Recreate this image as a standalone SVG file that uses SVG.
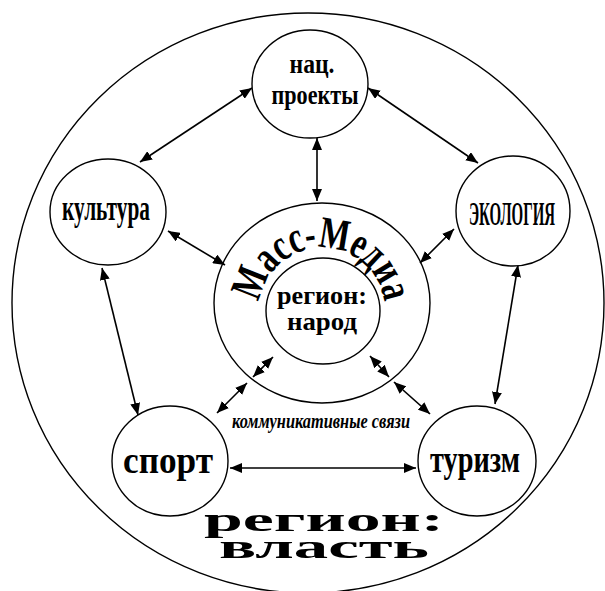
<svg xmlns="http://www.w3.org/2000/svg" width="605" height="591" viewBox="0 0 605 591">
<style>
.c{fill:none;stroke:#000;stroke-width:1.4}
.n{fill:#fff;stroke:#000;stroke-width:1.4}
.t{font-family:"Liberation Serif","DejaVu Serif",serif;font-weight:bold;fill:#000;text-anchor:middle}
.a{stroke:#000;stroke-width:1.6;fill:none;marker-start:url(#ah);marker-end:url(#ah)}
</style>
<defs>
<marker id="ah" viewBox="0 0 12 10" refX="12" refY="5" markerWidth="12" markerHeight="10" markerUnits="userSpaceOnUse" orient="auto-start-reverse"><path d="M0,0 L12,5 L0,10 z" fill="#000"/></marker>
</defs>
<rect width="605" height="591" fill="#fff"/>
<g id="region-vlast">
<ellipse class="c" cx="308" cy="303" rx="296" ry="290"/>
<text class="t" x="324" y="531" font-size="34" textLength="240" lengthAdjust="spacingAndGlyphs">регион:</text>
<text class="t" x="324" y="558" font-size="34" textLength="210" lengthAdjust="spacingAndGlyphs">власть</text>
</g>
<g id="mass-media">
<ellipse class="c" cx="322" cy="303" rx="108" ry="100"/>
<path id="mmarc" d="M259.6,302.2 A63,63 0 0 1 384.4,302.2" fill="none"/>
<text class="t" font-size="45" style="text-anchor:start"><textPath href="#mmarc" textLength="180" lengthAdjust="spacingAndGlyphs">Масс-Медиа</textPath></text>
</g>
<g id="region-narod">
<ellipse class="c" cx="323" cy="311" rx="57" ry="53"/>
<text class="t" x="322" y="304" font-size="26" textLength="90" lengthAdjust="spacingAndGlyphs">регион:</text>
<text class="t" x="322" y="330" font-size="26" textLength="70" lengthAdjust="spacingAndGlyphs">народ</text>
</g>
<g id="connectors">
<line class="a" x1="252" y1="88" x2="140" y2="162"/>
<line class="a" x1="368" y1="88" x2="478" y2="163"/>
<line class="a" x1="317" y1="138" x2="317" y2="201"/>
<line class="a" x1="168" y1="231" x2="225" y2="265"/>
<line class="a" x1="454" y1="229" x2="420" y2="263"/>
<line class="a" x1="102" y1="268" x2="138" y2="415"/>
<line class="a" x1="518" y1="265" x2="495" y2="404"/>
<line class="a" x1="230" y1="468" x2="416" y2="468"/>
<line class="a" x1="273" y1="357" x2="253" y2="377"/>
<line class="a" x1="247" y1="383" x2="217" y2="413"/>
<line class="a" x1="370" y1="356" x2="389" y2="377"/>
<line class="a" x1="394" y1="382" x2="430" y2="414"/>
</g>
<g id="nac-proekty">
<ellipse class="n" cx="310" cy="84" rx="58" ry="54"/>
<text class="t" x="312" y="73" font-size="28" textLength="45" lengthAdjust="spacingAndGlyphs">нац.</text>
<text class="t" x="315" y="104" font-size="28" textLength="87" lengthAdjust="spacingAndGlyphs">проекты</text>
</g>
<g id="kultura">
<ellipse class="n" cx="108" cy="212" rx="58" ry="53"/>
<text class="t" x="106" y="220" font-size="36" textLength="88" lengthAdjust="spacingAndGlyphs">культура</text>
</g>
<g id="ekologiya">
<ellipse class="n" cx="513" cy="211" rx="57" ry="55"/>
<text class="t" x="512" y="225" font-size="33" textLength="86" lengthAdjust="spacingAndGlyphs">ЭКОЛОГИЯ</text>
</g>
<g id="sport">
<ellipse class="n" cx="170" cy="461" rx="58" ry="55"/>
<text class="t" x="168" y="473" font-size="38" textLength="90" lengthAdjust="spacingAndGlyphs">спорт</text>
</g>
<g id="turizm">
<ellipse class="n" cx="477" cy="461" rx="59" ry="55"/>
<text class="t" x="475" y="472" font-size="38" textLength="90" lengthAdjust="spacingAndGlyphs">туризм</text>
</g>
<text id="komm" x="321" y="428" font-family="'Liberation Serif',serif" font-weight="bold" font-style="italic" font-size="21" text-anchor="middle" textLength="178" lengthAdjust="spacingAndGlyphs">коммуникативные связи</text>
</svg>
